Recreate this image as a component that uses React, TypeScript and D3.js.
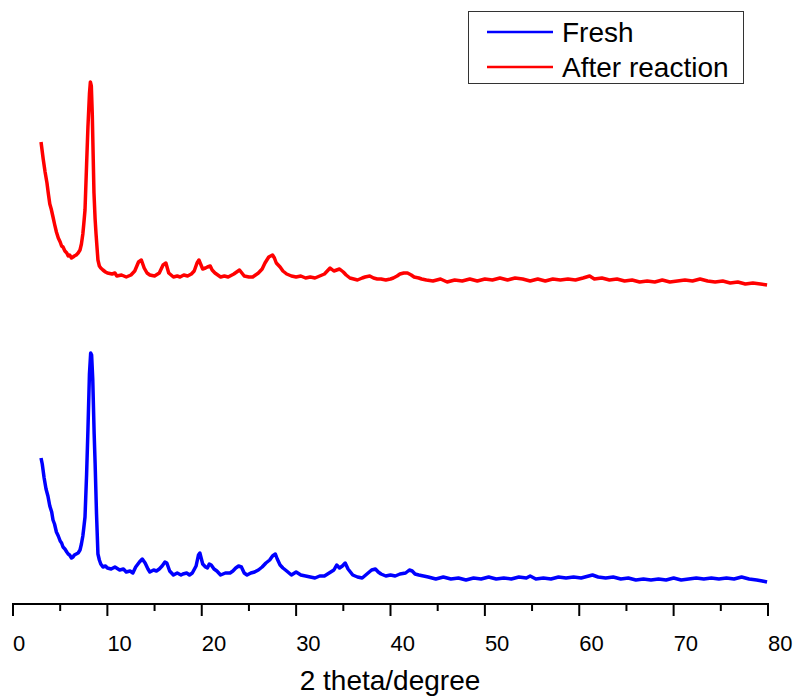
import React from "react";
import * as d3 from "d3";

// XRD patterns, [2 theta, intensity a.u.] (after-reaction curve is stacked above fresh)
const fresh: [number, number][] = [
  [2.97, 146], [3.1, 140], [3.3, 126], [3.5, 115], [3.7, 108], [3.9, 98], [4.1, 92], [4.24, 84],
  [4.4, 80], [4.6, 72], [4.8, 68], [5.0, 63], [5.15, 61], [5.3, 57], [5.5, 55], [5.7, 52],
  [5.85, 50], [6.0, 49], [6.2, 46], [6.36, 47], [6.5, 49], [6.7, 50], [6.9, 51], [7.1, 54],
  [7.25, 60], [7.4, 68], [7.5, 76], [7.63, 87], [7.8, 130], [7.94, 174], [8.1, 230], [8.23, 251],
  [8.33, 249], [8.45, 225], [8.6, 170], [8.7, 141], [8.85, 90], [9.0, 50], [9.15, 44], [9.3, 40],
  [9.53, 37], [9.8, 38], [10.0, 36], [10.4, 35], [10.8, 37], [11.3, 34], [11.7, 35], [12.0, 32],
  [12.4, 33], [12.7, 31], [13.0, 37], [13.4, 42], [13.7, 45], [14.0, 41], [14.3, 35], [14.5, 32],
  [14.9, 34], [15.2, 33], [15.5, 35], [15.8, 38], [16.1, 42], [16.3, 41], [16.6, 33], [17.0, 29],
  [17.4, 31], [17.8, 29], [18.0, 30], [18.4, 31], [18.7, 29], [19.0, 31], [19.4, 38], [19.65, 49],
  [19.8, 51], [20.1, 40], [20.4, 37], [20.6, 36], [20.8, 40], [21.0, 39], [21.3, 35], [21.6, 33],
  [22.0, 29], [22.5, 31], [23.0, 31], [23.3, 33], [23.6, 36], [23.9, 38], [24.2, 37], [24.5, 31],
  [24.8, 29], [25.2, 31], [25.6, 32], [26.0, 34], [26.4, 37], [26.8, 41], [27.2, 44], [27.5, 48],
  [27.8, 50], [28.0, 45], [28.3, 39], [28.6, 36], [29.0, 33], [29.5, 29], [30.0, 32], [30.5, 29],
  [31.0, 28], [31.5, 27], [32.0, 26], [32.5, 28], [33.0, 28], [33.5, 31], [34.0, 34], [34.3, 39],
  [34.6, 36], [34.9, 38], [35.2, 41], [35.5, 35], [36.0, 29], [36.5, 27], [37.0, 26], [37.5, 30],
  [38.0, 34], [38.4, 35], [38.7, 32], [39.0, 30], [39.5, 28], [40.0, 29], [40.5, 28], [41.0, 30],
  [41.6, 31], [42.0, 34], [42.3, 33], [42.6, 30], [43.0, 29], [43.5, 28], [44.0, 27], [44.8, 25],
  [45.6, 27], [46.4, 25], [47.2, 26], [48.0, 24], [48.8, 26], [49.6, 25], [50.4, 27], [51.2, 25],
  [52.0, 26], [52.8, 25], [53.6, 27], [54.4, 26], [54.8, 28], [55.4, 25], [56.2, 26], [57.0, 25],
  [57.8, 27], [58.6, 26], [59.4, 27], [60.2, 26], [61.0, 28], [61.4, 29], [62.0, 27], [62.8, 26],
  [63.6, 27], [64.4, 25], [65.2, 26], [66.0, 24], [66.8, 25], [67.6, 24], [68.4, 25], [69.2, 24],
  [70.0, 26], [70.8, 24], [71.6, 25], [72.4, 26], [73.2, 25], [74.0, 26], [74.8, 25], [75.6, 26],
  [76.4, 25], [77.2, 27], [78.0, 25], [78.8, 24], [79.4, 23], [79.9, 22],
];

const afterReaction: [number, number][] = [
  [2.97, 462], [3.2, 445], [3.4, 432], [3.6, 421], [3.75, 410], [3.9, 400], [4.05, 395], [4.24, 387],
  [4.4, 380], [4.6, 372], [4.8, 366], [5.0, 362], [5.15, 358], [5.3, 357], [5.5, 353], [5.7, 351],
  [5.85, 348], [6.0, 349], [6.2, 346], [6.36, 347], [6.5, 348], [6.7, 349], [6.9, 351], [7.1, 354],
  [7.25, 360], [7.4, 370], [7.5, 380], [7.63, 394], [7.8, 440], [7.94, 477], [8.1, 510], [8.2, 522],
  [8.3, 518], [8.4, 490], [8.58, 411], [8.7, 385], [8.8, 370], [9.0, 344], [9.15, 338], [9.3, 336],
  [9.53, 334], [9.8, 332], [10.0, 331], [10.5, 330], [10.8, 331], [11.0, 328], [11.5, 329], [12.0, 327],
  [12.5, 329], [12.9, 333], [13.3, 342], [13.6, 344], [13.9, 336], [14.2, 331], [14.5, 329], [15.0, 328],
  [15.5, 331], [15.9, 339], [16.2, 341], [16.5, 331], [17.0, 327], [17.4, 328], [17.7, 327], [18.1, 329],
  [18.5, 328], [18.9, 330], [19.2, 333], [19.5, 341], [19.7, 344], [20.1, 335], [20.4, 336], [20.6, 337],
  [20.9, 338], [21.1, 334], [21.4, 331], [22.0, 327], [22.4, 328], [22.8, 327], [23.4, 330], [23.7, 332],
  [24.0, 334], [24.5, 328], [25.0, 327], [25.4, 327], [26.0, 331], [26.4, 335], [26.7, 341], [27.1, 347],
  [27.5, 349], [27.7, 346], [27.9, 341], [28.3, 337], [28.6, 333], [29.0, 330], [29.5, 328], [30.0, 327],
  [30.5, 328], [31.0, 326], [31.5, 327], [32.0, 326], [32.5, 328], [33.0, 330], [33.3, 333], [33.6, 336],
  [34.0, 333], [34.3, 334], [34.6, 335], [35.0, 332], [35.3, 329], [35.7, 326], [36.1, 325], [36.5, 324],
  [37.0, 326], [37.3, 327], [37.8, 328], [38.2, 326], [38.6, 325], [39.0, 325], [39.5, 324], [40.0, 325],
  [40.3, 326], [40.7, 328], [41.0, 330], [41.4, 331], [41.8, 331], [42.2, 329], [42.5, 327], [43.0, 326],
  [43.3, 325], [43.8, 324], [44.5, 323], [45.3, 325], [46.0, 322], [46.8, 324], [47.6, 323], [48.4, 325],
  [49.2, 323], [50.0, 325], [50.8, 324], [51.6, 326], [52.4, 324], [53.2, 326], [54.0, 325], [54.8, 323],
  [55.6, 325], [56.4, 323], [57.2, 325], [58.0, 324], [58.8, 325], [59.6, 324], [60.4, 326], [61.1, 328],
  [61.6, 325], [62.4, 326], [63.2, 324], [64.0, 325], [64.8, 323], [65.6, 324], [66.4, 322], [67.2, 323],
  [68.0, 322], [68.8, 324], [69.6, 322], [70.4, 323], [71.2, 324], [72.0, 323], [72.8, 325], [73.6, 323],
  [74.4, 322], [75.2, 323], [76.0, 321], [76.8, 322], [77.6, 320], [78.4, 321], [79.2, 320], [79.9, 319],
];

const majorTicks = [0, 10, 20, 30, 40, 50, 60, 70, 80];
const minorTicks = [5, 15, 25, 35, 45, 55, 65, 75];
const legendLabels = ["Fresh", "After reaction"];
const colors = ["#0000ff", "#ff0000"];

const width = 798;
const height = 699;
const font = "'Liberation Sans', Arial, sans-serif";

export default function App() {
  const x = d3.scaleLinear().domain([0, 80]).range([13, 768]);
  const y = d3.scaleLinear().domain([0, 604]).range([604, 0]);
  const axisY = 604;

  const line = d3
    .line<[number, number]>()
    .x(d => x(d[0]))
    .y(d => y(d[1]));

  const series = [fresh, afterReaction];

  return (
    <svg
      width={width}
      height={height}
      style={{ position: "absolute", left: 0, top: 0, background: "#fff" }}
      fontFamily={font}
    >
      <rect width={width} height={height} fill="#fff" />
      {series.map((s, i) => (
        <path
          key={i}
          d={line(s) || ""}
          fill="none"
          stroke={colors[i]}
          strokeWidth={3.5}
          strokeLinejoin="round"
        />
      ))}

      {/* x axis */}
      <g stroke="#000" strokeWidth={2}>
        <line x1={x(0)} x2={x(80)} y1={axisY} y2={axisY} strokeLinecap="square" />
        {majorTicks.map(t => (
          <line key={"M" + t} x1={x(t)} x2={x(t)} y1={axisY} y2={axisY + 12} />
        ))}
        {minorTicks.map(t => (
          <line key={"m" + t} x1={x(t)} x2={x(t)} y1={axisY} y2={axisY + 7} />
        ))}
      </g>
      {majorTicks.map(t => (
        <text key={"l" + t} x={x(t)} y={651} fontSize={22} fill="#000" textAnchor="start">
          {t}
        </text>
      ))}
      <text x={390} y={690} fontSize={28} textAnchor="middle" fill="#000">
        2 theta/degree
      </text>

      {/* legend */}
      <rect x={468.5} y={11.5} width={275} height={72} fill="#fff" stroke="#333" strokeWidth={1} />
      {legendLabels.map((lab, i) => (
        <g key={lab}>
          <line x1={487} x2={553} y1={32 + i * 35} y2={32 + i * 35} stroke={colors[i]} strokeWidth={2.5} />
          <text x={562} y={42 + i * 35} fontSize={28} fill="#000">
            {lab}
          </text>
        </g>
      ))}
    </svg>
  );
}
